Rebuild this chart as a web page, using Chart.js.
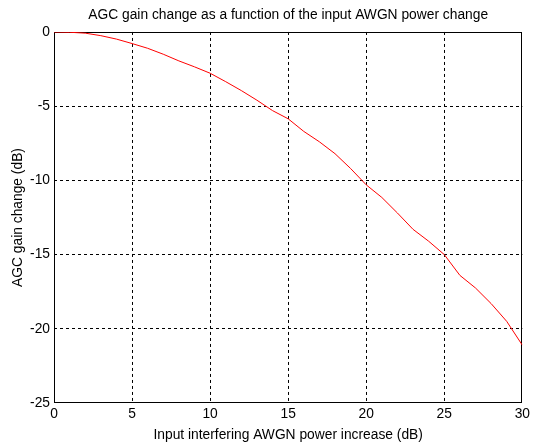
<!DOCTYPE html>
<html>
<head>
<meta charset="utf-8">
<script src="https://cdn.jsdelivr.net/npm/chart.js@4"></script>
<style>
  body { margin: 0; background: #fff; }
  canvas { display: block; }
</style>
</head>
<body>
<canvas id="agcChart" width="533" height="447"></canvas>
<script>
// interfering AWGN power increase (dB)
let powerIncrease = [0, 1, 2, 3, 4, 5, 6, 7, 8, 9, 10, 11, 12, 13, 14, 15,
    16, 17, 18, 19, 20, 21, 22, 23, 24, 25, 26, 27, 28, 29, 30];
// AGC gain change (dB)
let gainChange = [0, -0.02, -0.08, -0.25, -0.48, -0.78, -1.1, -1.5, -1.95, -2.35, -2.78,
    -3.35, -3.95, -4.6, -5.3, -5.85, -6.7, -7.4, -8.2, -9.2, -10.3,
    -11.15, -12.2, -13.3, -14.1, -15.0, -16.4, -17.25, -18.3, -19.5, -21.1];

let xTicks = [0, 5, 10, 15, 20, 25, 30];
let yTicks = [-25, -20, -15, -10, -5, 0];

let fontFamily = "'Liberation Sans', Arial, sans-serif";
let fontSize = 13.8;

// draws the closed box round the plot, like matlab's "box on"
const boxPlugin = {
    id: "box",
    beforeDatasetsDraw(chart) {
        let a = chart.chartArea;
        let ctx = chart.ctx;
        ctx.save();
        ctx.strokeStyle = "#000";
        ctx.lineWidth = 1;
        ctx.strokeRect(Math.round(a.left) + 0.5, Math.round(a.top) + 0.5,
            Math.round(a.right - a.left) - 1, Math.round(a.bottom - a.top) - 1);
        ctx.restore();
    }
};

function gridColor(ctx, ticks) {
    let v = ctx.tick ? ctx.tick.value : null;
    if (v === ticks[0] || v === ticks[ticks.length - 1]) return "rgba(0,0,0,0)";
    return "#000";
}

let ctx = document.getElementById("agcChart").getContext("2d");

new Chart(ctx, {
    type: "line",
    data: {
        datasets: [{
            data: powerIncrease.map((x, i) => ({ x: x, y: gainChange[i] })),
            borderColor: "#ff0000",
            borderWidth: 1,
            pointRadius: 0,
            fill: false,
            tension: 0
        }]
    },
    options: {
        responsive: false,
        animation: false,
        layout: { padding: { left: 0, right: 7, top: 0, bottom: 0 } },
        plugins: {
            legend: { display: false },
            tooltip: { enabled: false },
            title: {
                display: true,
                fullSize: false,
                text: "AGC gain change as a function of the input AWGN power change",
                color: "#000",
                font: { family: fontFamily, size: fontSize, weight: "normal" },
                padding: { top: 7, bottom: 8.4 }
            }
        },
        scales: {
            x: {
                type: "linear",
                min: 0,
                max: 30,
                afterBuildTicks: s => { s.ticks = xTicks.map(v => ({ value: v })); },
                afterFit: s => { s.height = 44; },
                ticks: {
                    color: "#000",
                    padding: 3,
                    maxRotation: 0,
                    font: { family: fontFamily, size: fontSize }
                },
                grid: {
                    drawTicks: false,
                    color: c => gridColor(c, xTicks),
                    lineWidth: 1
                },
                border: { display: false, dash: [3, 3] },
                title: {
                    display: true,
                    text: "Input interfering AWGN power increase (dB)",
                    color: "#000",
                    font: { family: fontFamily, size: fontSize },
                    padding: { top: 0, bottom: 4 }
                }
            },
            y: {
                type: "linear",
                min: -25,
                max: 0,
                afterBuildTicks: s => { s.ticks = yTicks.map(v => ({ value: v })); },
                afterFit: s => { s.width = 54; },
                ticks: {
                    color: "#000",
                    padding: 4,
                    font: { family: fontFamily, size: fontSize }
                },
                grid: {
                    drawTicks: false,
                    color: c => gridColor(c, yTicks),
                    lineWidth: 1
                },
                border: { display: false, dash: [3, 3] },
                title: {
                    display: true,
                    text: "AGC gain change (dB)",
                    color: "#000",
                    font: { family: fontFamily, size: fontSize },
                    padding: { top: 9.5, bottom: 0 }
                }
            }
        }
    },
    plugins: [boxPlugin]
});
</script>
</body>
</html>
